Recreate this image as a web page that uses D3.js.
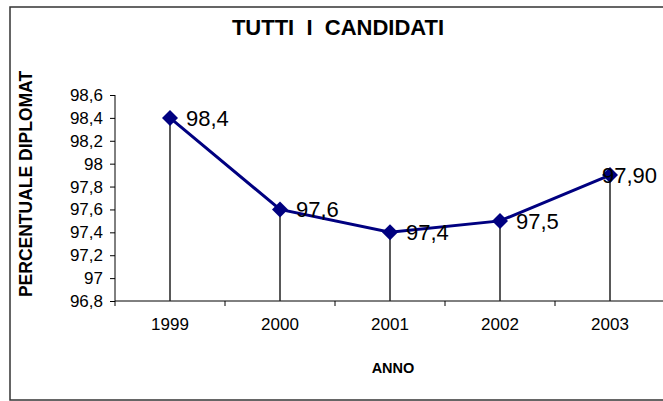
<!DOCTYPE html>
<html>
<head>
<meta charset="utf-8">
<script src="https://cdn.jsdelivr.net/npm/d3@7"></script>
<style>
body { margin: 0; background: #fff; }
text { font-family: Arial, "Liberation Sans", sans-serif; }
</style>
</head>
<body>
<script>
const anni = ['1999', '2000', '2001', '2002', '2003'];
const valori = [98.4, 97.6, 97.4, 97.5, 97.9];
const etichette = ['98,4', '97,6', '97,4', '97,5', '97,90'];
const yTicks = [96.8, 97, 97.2, 97.4, 97.6, 97.8, 98, 98.2, 98.4, 98.6];

const svg = d3.select('body').append('svg')
              .attr('width', 663)
              .attr('height', 401);

// cornice del grafico
svg.append('rect')
   .attr('x', 10).attr('y', 7).attr('width', 700).attr('height', 393)
   .style('fill', 'white').style('stroke', '#333').style('stroke-width', 1.5);

const x = d3.scaleBand().domain(anni).range([115, 665]);
const y = d3.scaleLinear().domain([96.8, 98.6]).range([301, 95]);

// asse y
const yAxis = svg.append('g')
                 .attr('transform', 'translate(115,0)')
                 .call(d3.axisLeft(y).tickValues(yTicks).tickSize(5).tickPadding(7)
                         .tickFormat(d => String(+d.toFixed(1)).replace('.', ',')));
yAxis.select('.domain').attr('d', 'M0,' + y(98.6) + 'V' + y(96.8)).style('stroke', '#000');
yAxis.selectAll('.tick line').style('stroke', '#000');
yAxis.selectAll('text').style('font-size', '17px').style('fill', '#000');

// asse x
const xAxis = svg.append('g')
                 .attr('transform', 'translate(0,301)')
                 .call(d3.axisBottom(x).tickSize(0).tickPadding(17));
xAxis.select('.domain').attr('d', 'M115,0H665').style('stroke', '#000');
xAxis.selectAll('text').style('font-size', '17px').style('fill', '#000');
xAxis.selectAll('.sep').data(anni.concat(['fine']))
     .enter().append('line').attr('class', 'sep')
     .attr('x1', d => d === 'fine' ? 665 : x(d))
     .attr('x2', d => d === 'fine' ? 665 : x(d))
     .attr('y1', 0).attr('y2', 5)
     .style('stroke', '#000');

const cx = d => x(d) + x.bandwidth() / 2;

// linee di caduta
svg.selectAll('.drop').data(anni)
   .enter().append('line').attr('class', 'drop')
   .attr('x1', d => cx(d)).attr('x2', d => cx(d))
   .attr('y1', (d, i) => y(valori[i])).attr('y2', 301)
   .style('stroke', '#222').style('stroke-width', 1.5);

// serie
svg.append('path')
   .datum(valori)
   .attr('d', d3.line().x((d, i) => cx(anni[i])).y(d => y(d)))
   .style('fill', 'none').style('stroke', '#000080').style('stroke-width', 3);

svg.selectAll('.marker').data(valori)
   .enter().append('path').attr('class', 'marker')
   .attr('transform', (d, i) => 'translate(' + cx(anni[i]) + ',' + y(d) + ')')
   .attr('d', 'M0,-8L8,0L0,8L-8,0Z')
   .style('fill', '#000080');

// etichette dati
svg.selectAll('.lab').data(valori)
   .enter().append('text').attr('class', 'lab')
   .attr('x', (d, i) => cx(anni[i]) + (i === 4 ? -8 : 16))
   .attr('y', d => y(d) + 8)
   .text((d, i) => etichette[i])
   .style('font-size', '22px').style('fill', '#000');

// titoli
svg.append('text').attr('x', 338).attr('y', 35).attr('text-anchor', 'middle')
   .text('TUTTI\u00a0\u00a0I\u00a0\u00a0CANDIDATI')
   .style('font-size', '22px').style('font-weight', 'bold');

svg.append('text').attr('x', 393).attr('y', 373).attr('text-anchor', 'middle')
   .text('ANNO').style('font-size', '14.5px').style('font-weight', 'bold');

svg.append('text').attr('transform', 'translate(32,184) rotate(-90)')
   .attr('text-anchor', 'middle')
   .text('PERCENTUALE DIPLOMAT').style('font-size', '17.5px').style('font-weight', 'bold');
</script>
</body>
</html>
